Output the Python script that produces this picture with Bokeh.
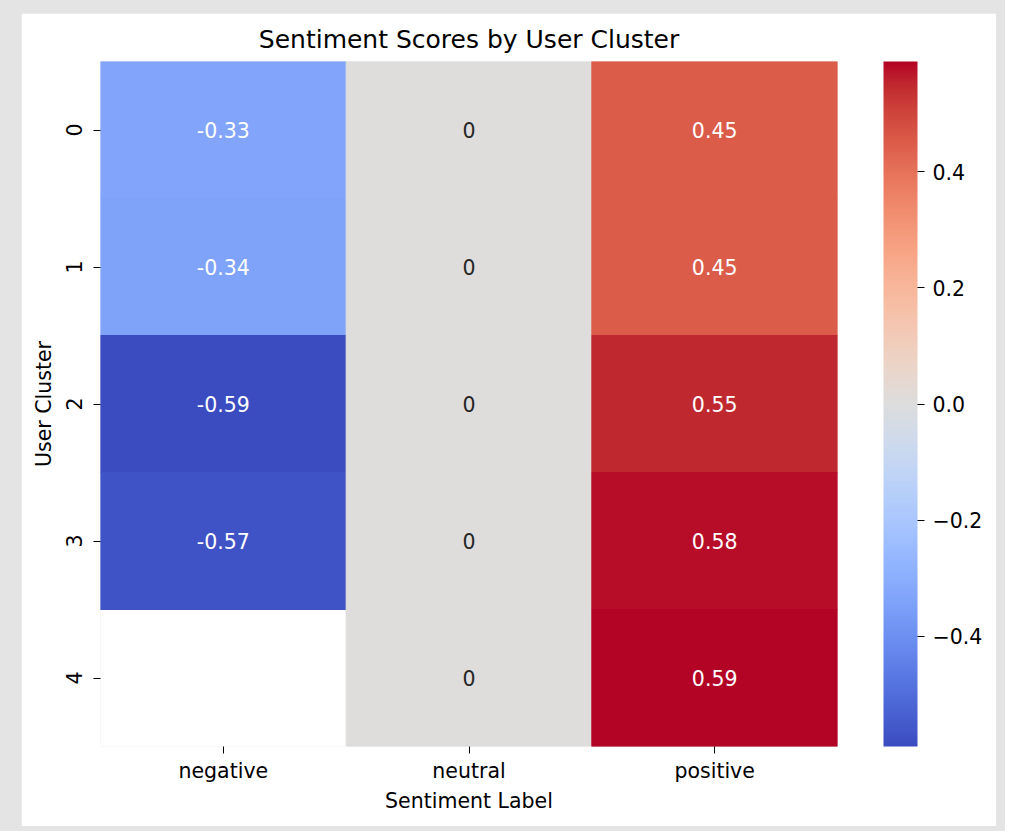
import numpy as np
from bokeh.plotting import figure
from bokeh.models import (ColumnDataSource, LinearColorMapper, ColorBar, FixedTicker,
                          CustomJSTickFormatter, FactorRange)
from bokeh.layouts import column
from bokeh.core.properties import value
from bokeh.embed import file_html
from bokeh.resources import INLINE

# ---- data ----
labels = ["negative", "neutral", "positive"]
clusters = ["0", "1", "2", "3", "4"]
negative = [-0.33, -0.34, -0.59, -0.57, float("nan")]
neutral = [0.0, 0.0, 0.0, 0.0, 0.0]
positive = [0.45, 0.45, 0.55, 0.58, 0.59]
cbar_ticks = [-0.4, -0.2, 0.0, 0.2, 0.4]

title = "Sentiment Scores by User Cluster"
x_label = "Sentiment Label"
y_label = "User Cluster"

# ---- coolwarm palette (Moreland diverging map control points) ----
cw = np.array([
    [59, 76, 192], [68, 90, 204], [77, 104, 215], [87, 117, 225], [98, 130, 234],
    [108, 142, 241], [119, 154, 247], [130, 165, 251], [141, 176, 254], [152, 185, 255],
    [163, 194, 255], [174, 201, 253], [184, 208, 249], [194, 213, 244], [204, 217, 238],
    [213, 219, 230], [221, 221, 221], [229, 216, 209], [236, 211, 197], [241, 204, 185],
    [245, 196, 173], [247, 187, 160], [247, 177, 148], [247, 166, 135], [244, 154, 123],
    [241, 141, 111], [236, 127, 99], [229, 112, 88], [222, 96, 77], [213, 80, 66],
    [203, 62, 56], [192, 40, 47], [180, 4, 38]], dtype=float)
cp = np.linspace(0, 1, len(cw))
tt = np.linspace(0, 1, 256)
lut = np.stack([np.interp(tt, cp, cw[:, k]) for k in range(3)], axis=1)
palette = ["#%02x%02x%02x" % tuple(int(round(c)) for c in row) for row in lut]

series = {"negative": negative, "neutral": neutral, "positive": positive}
all_vals = [v for s in series.values() for v in s if not np.isnan(v)]
vmin, vmax = min(all_vals), max(all_vals)


def text_color(v):
    idx = int(np.clip((v - vmin) / (vmax - vmin) * 255, 0, 255))
    rgb = lut[idx] / 255.0
    lin = np.where(rgb <= 0.03928, rgb / 12.92, ((rgb + 0.055) / 1.055) ** 2.4)
    lum = 0.2126 * lin[0] + 0.7152 * lin[1] + 0.0722 * lin[2]
    return "#262626" if lum > 0.408 else "#ffffff"


xs, ys, vals, txt, tcol = [], [], [], [], []
for lab in labels:
    for cl, v in zip(clusters, series[lab]):
        if np.isnan(v):
            continue
        xs.append(lab)
        ys.append(cl)
        vals.append(v)
        txt.append("%g" % round(v, 2) if v != 0 else "0")
        tcol.append(text_color(v))

src = ColumnDataSource(dict(x=xs, y=ys, v=vals, t=txt, c=tcol))
mapper = LinearColorMapper(palette=palette, low=vmin, high=vmax, nan_color="white")

FONT = "DejaVu Sans"
FS = "20.5px"

p = figure(width=975, height=813, output_backend="svg", toolbar_location=None,
           x_range=FactorRange(factors=labels), y_range=FactorRange(factors=clusters[::-1]),
           frame_width=737, frame_height=685,
           min_border_left=79, min_border_top=48, min_border_right=159, min_border_bottom=80,
           title=title)
p.rect(x="x", y="y", width=1, height=1, source=src,
       fill_color={"field": "v", "transform": mapper},
       line_color={"field": "v", "transform": mapper}, line_width=1)
p.text(x="x", y="y", text="t", source=src, text_color="c",
       text_align="center", text_baseline="middle",
       text_font=value(FONT), text_font_size=FS)

p.title.align = "center"
p.title.text_font = FONT
p.title.text_font_size = "25px"
p.title.text_font_style = "normal"
p.title.text_color = "black"
p.title.standoff = 16

p.outline_line_color = None
p.grid.visible = False
p.background_fill_color = "white"
p.border_fill_color = "white"

for ax in (p.xaxis[0], p.yaxis[0]):
    ax.axis_line_color = None
    ax.major_tick_in = 0
    ax.major_tick_out = 7
    ax.major_tick_line_color = "black"
    ax.major_label_text_font = FONT
    ax.major_label_text_font_size = FS
    ax.major_label_text_color = "black"
    ax.axis_label_text_font = FONT
    ax.axis_label_text_font_size = FS
    ax.axis_label_text_font_style = "normal"
    ax.axis_label_text_color = "black"

p.xaxis.axis_label = x_label
p.yaxis.axis_label = y_label
p.xaxis.major_label_standoff = 5
p.xaxis.axis_label_standoff = 3
p.yaxis.major_label_orientation = "vertical"
p.yaxis.major_label_standoff = 12
p.yaxis.axis_label_standoff = 7

cb = ColorBar(color_mapper=mapper, ticker=FixedTicker(ticks=cbar_ticks),
              formatter=CustomJSTickFormatter(code="return tick.toFixed(1).replace('-', '\u2212');"),
              width=34, height=685, padding=0, margin=0,
              major_tick_out=7, major_tick_in=0, major_tick_line_color="black",
              bar_line_color=None, border_line_color=None, background_fill_color=None,
              major_label_text_font=FONT, major_label_text_font_size=FS,
              major_label_text_color="black", label_standoff=8, location=(46, 0))
p.add_layout(cb, "right")

layout = column(p, styles={"background-color": "#e4e4e4", "padding": "13px 9px 5px 21px"})

open("out.html", "w").write(file_html(layout, INLINE))
